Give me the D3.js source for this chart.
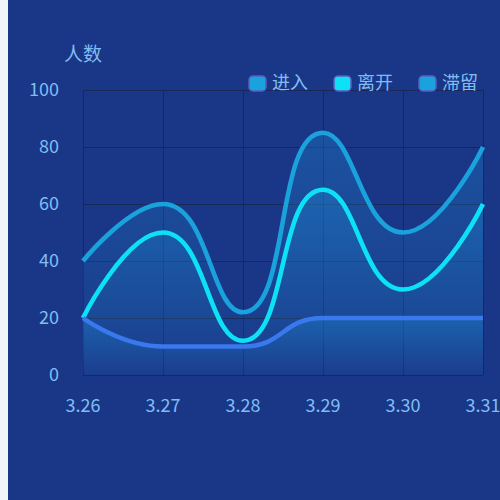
<!DOCTYPE html>
<html>
<head>
<meta charset="utf-8">
<script src="https://cdn.jsdelivr.net/npm/d3@7"></script>
<style>
  html, body { margin: 0; padding: 0; background: #f3f4f8; }
  #chart { position: absolute; left: 8px; top: 0; width: 492px; height: 500px; background: #1a3687; }
  text { font-family: "Noto Sans CJK SC", "Noto Sans", sans-serif; fill: #7fbef3; }
</style>
</head>
<body>
<div id="chart"></div>
<script>
// chart values
const days = ['3.26', '3.27', '3.28', '3.29', '3.30', '3.31'];
const seriesNames = ['进入', '离开', '滞留'];
const enterValues = [40, 60, 22, 85, 50, 80];
const leaveValues = [20, 50, 12, 65, 30, 60];
const stayValues = [20, 10, 10, 20, 20, 20];
const yTicks = [0, 20, 40, 60, 80, 100];
const yName = '人数';

const lineColors = ['#19a2dc', '#0de1f6', '#3a78ee'];
const legendColors = ['#19a2dc', '#0de1f6', '#19a2dc'];

// same smoothing rule echarts uses (control points clamped between neighbours)
class EchartsSmooth {
  constructor(context, smooth) { this._context = context; this._s = smooth; }
  areaStart() { this._line = 0; }
  areaEnd() { this._line = NaN; }
  lineStart() { this._pts = []; }
  point(x, y) { this._pts.push([+x, +y]); }
  lineEnd() {
    const p = this._pts, n = p.length, s = this._s, c = this._context;
    let cp0x, cp0y;
    const clamp = (v, a, b) => Math.max(Math.min(v, Math.max(a, b)), Math.min(a, b));
    for (let i = 0; i < n; i++) {
      const [x, y] = p[i];
      if (i === 0) {
        this._line ? c.lineTo(x, y) : c.moveTo(x, y);
        cp0x = x; cp0y = y;
        continue;
      }
      const [px, py] = p[i - 1];
      let cp1x, cp1y, ncx, ncy;
      if (i === n - 1) {
        cp1x = x; cp1y = y;
      } else {
        const [nx, ny] = p[i + 1];
        let vx = nx - px, vy = ny - py;
        const l0 = Math.hypot(x - px, y - py), l1 = Math.hypot(nx - x, ny - y);
        const r = l1 / (l0 + l1);
        ncx = clamp(x + vx * s * r, nx, x);
        ncy = clamp(y + vy * s * r, ny, y);
        vx = ncx - x; vy = ncy - y;
        cp1x = clamp(x - vx * l0 / l1, px, x);
        cp1y = clamp(y - vy * l0 / l1, py, y);
        vx = x - cp1x; vy = y - cp1y;
        ncx = x + vx * l1 / l0;
        ncy = y + vy * l1 / l0;
      }
      c.bezierCurveTo(cp0x, cp0y, cp1x, cp1y, x, y);
      cp0x = ncx; cp0y = ncy;
    }
    if (this._line || (this._line !== 0 && n === 1)) c.closePath();
    this._line = 1 - this._line;
  }
}
const curveSmooth = (context) => new EchartsSmooth(context, 0.5);

const W = 492, H = 500;
const margin = { top: 90, right: 17, bottom: 125, left: 75 };

const svg = d3.select('#chart').append('svg')
  .attr('width', W)
  .attr('height', H);

const x = d3.scalePoint().domain(days).range([margin.left, W - margin.right]);
const y = d3.scaleLinear().domain([0, 100]).range([H - margin.bottom, margin.top]);

const series = [enterValues, leaveValues, stayValues].map((vals, i) => ({
  name: seriesNames[i],
  color: lineColors[i],
  points: days.map((d, j) => [d, vals[j]])
}));

// gradients for the areas
const defs = svg.append('defs');
series.forEach((s, i) => {
  const g = defs.append('linearGradient')
    .attr('id', `grad-${i}`)
    .attr('x1', 0).attr('y1', 0).attr('x2', 0).attr('y2', 1);
  g.append('stop').attr('offset', '0%').attr('stop-color', '#1ea6ea').attr('stop-opacity', 0.26);
  g.append('stop').attr('offset', '100%').attr('stop-color', '#1ea6ea').attr('stop-opacity', 0.02);
});

// grid
const grid = svg.append('g').attr('class', 'grid')
  .attr('stroke', '#192856').attr('stroke-width', 1);
grid.selectAll('line.h')
  .data(yTicks)
  .join('line')
  .attr('class', 'h')
  .attr('x1', margin.left).attr('x2', W - margin.right)
  .attr('y1', (d) => Math.round(y(d)) + 0.5).attr('y2', (d) => Math.round(y(d)) + 0.5);
grid.selectAll('line.v')
  .data(days)
  .join('line')
  .attr('class', 'v')
  .attr('y1', y(100)).attr('y2', y(0))
  .attr('x1', (d) => Math.round(x(d)) + 0.5).attr('x2', (d) => Math.round(x(d)) + 0.5);

// y labels
svg.append('g').selectAll('text')
  .data(yTicks)
  .join('text')
  .attr('x', margin.left - 24)
  .attr('y', (d) => y(d))
  .attr('dy', '0.35em')
  .attr('text-anchor', 'end')
  .attr('font-size', 18)
  .text((d) => d);

// x labels
svg.append('g').selectAll('text')
  .data(days)
  .join('text')
  .attr('x', (d) => x(d))
  .attr('y', y(0) + 31)
  .attr('dy', '0.35em')
  .attr('text-anchor', 'middle')
  .attr('font-size', 18)
  .text((d) => d);

// axis name
svg.append('text')
  .attr('x', 75)
  .attr('y', 54)
  .attr('dy', '0.35em')
  .attr('text-anchor', 'middle')
  .attr('font-size', 19)
  .text(yName);

const area = d3.area()
  .x((d) => x(d[0]))
  .y0(y(0))
  .y1((d) => y(d[1]))
  .curve(curveSmooth);

const line = d3.line()
  .x((d) => x(d[0]))
  .y((d) => y(d[1]))
  .curve(curveSmooth);

svg.append('g').selectAll('path')
  .data(series)
  .join('path')
  .attr('d', (d) => area(d.points))
  .attr('fill', (d, i) => `url(#grad-${i})`);

svg.append('g').selectAll('path')
  .data(series)
  .join('path')
  .attr('d', (d) => line(d.points))
  .attr('fill', 'none')
  .attr('stroke', (d) => d.color)
  .attr('stroke-width', 4.6);

// legend
const legend = svg.append('g').attr('transform', 'translate(240,83)');
const items = legend.selectAll('g')
  .data(seriesNames)
  .join('g')
  .attr('transform', (d, i) => `translate(${i * 85},0)`);
items.append('rect')
  .attr('x', 1).attr('y', -7)
  .attr('width', 17).attr('height', 15)
  .attr('rx', 4)
  .attr('fill', (d, i) => legendColors[i])
  .attr('stroke', '#5b5cc4')
  .attr('stroke-width', 1.5);
items.append('text')
  .attr('x', 24)
  .attr('dy', '0.35em')
  .attr('font-size', 18)
  .text((d) => d);
</script>
</body>
</html>
